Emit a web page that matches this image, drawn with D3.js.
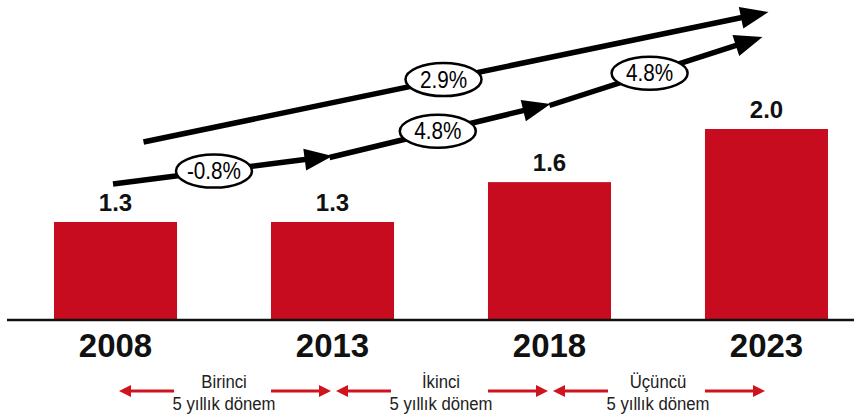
<!DOCTYPE html>
<html>
<head>
<meta charset="utf-8">
<script src="https://cdn.jsdelivr.net/npm/d3@7"></script>
<style>
  html, body { margin: 0; padding: 0; background: #fff; }
  svg { display: block; }
</style>
</head>
<body>
<svg id="chart" width="854" height="416"></svg>
<script>
// Years on the axis and the value shown above each bar
const years = ["2008", "2013", "2018", "2023"];
const values = [1.3, 1.3, 1.6, 2.0];

// Growth rates for each five-year step (lower arrow) and for the whole span (upper arrow)
const stepRates = ["-0.8%", "4.8%", "4.8%"];
const totalRate = "2.9%";

// Period labels placed between consecutive years
const periodNames = ["Birinci", "İkinci", "Üçüncü"];
const periodSub = "5 yıllık dönem";

const svg = d3.select("#chart");
const W = 854, H = 416;
const baseY = 320;

const x = d3.scaleBand()
  .domain(years)
  .range([54, 828])
  .paddingInner(0.433)
  .paddingOuter(0);

const y = d3.scaleLinear()
  .domain([0.562, 2.0])
  .range([baseY, 129]);

const cx = yr => x(yr) + x.bandwidth() / 2;

const barColor = "#c60c1e";
const arrowRed = "#d0141f";

// Bars
svg.append("g").selectAll("rect")
  .data(values)
  .join("rect")
  .attr("x", (d, i) => x(years[i]))
  .attr("y", d => y(d))
  .attr("width", x.bandwidth())
  .attr("height", d => baseY - y(d))
  .attr("fill", barColor);

// Value labels
svg.append("g").selectAll("text")
  .data(values)
  .join("text")
  .attr("x", (d, i) => cx(years[i]))
  .attr("y", d => y(d) - 11)
  .attr("text-anchor", "middle")
  .attr("font-family", "Liberation Sans, Arial, sans-serif")
  .attr("font-weight", "bold")
  .attr("font-size", 24)
  .attr("fill", "#111")
  .text(d => d.toFixed(1));

// Baseline axis with year labels
const axis = d3.axisBottom(x).tickSize(0).tickPadding(0);
const axG = svg.append("g").attr("transform", `translate(0,${baseY})`).call(axis);
axG.select(".domain").remove();
axG.selectAll("text")
  .attr("y", 37)
  .attr("dy", 0)
  .attr("font-family", "Liberation Sans, Arial, sans-serif")
  .attr("font-weight", "bold")
  .attr("font-size", 33)
  .attr("fill", "#111");
svg.append("line")
  .attr("x1", 7).attr("x2", W)
  .attr("y1", baseY).attr("y2", baseY)
  .attr("stroke", "#111").attr("stroke-width", 2.5);

// Black growth arrows with oval rate badges
const arrowG = svg.append("g");
function growthArrow(p0, p1, label, t) {
  const dx = p1[0] - p0[0], dy = p1[1] - p0[1];
  const len = Math.hypot(dx, dy);
  const ux = dx / len, uy = dy / len;
  const headLen = 28, headHalf = 11;
  const bx = p1[0] - ux * headLen, by = p1[1] - uy * headLen;
  arrowG.append("line")
    .attr("x1", p0[0]).attr("y1", p0[1])
    .attr("x2", bx + ux * 2).attr("y2", by + uy * 2)
    .attr("stroke", "#000").attr("stroke-width", 5.5);
  arrowG.append("path")
    .attr("d", d3.line()([
      [p1[0], p1[1]],
      [bx - uy * headHalf, by + ux * headHalf],
      [bx + uy * headHalf, by - ux * headHalf]
    ]) + "Z")
    .attr("fill", "#000");
  const mx = p0[0] + dx * t, my = p0[1] + dy * t;
  arrowG.append("ellipse")
    .attr("cx", mx).attr("cy", my)
    .attr("rx", 38).attr("ry", 16.5)
    .attr("fill", "#fff").attr("stroke", "#000").attr("stroke-width", 2.5);
  arrowG.append("text")
    .attr("transform", `translate(${mx},${my + 8}) scale(0.9,1)`)
    .attr("text-anchor", "middle")
    .attr("font-family", "Liberation Sans, Arial, sans-serif")
    .attr("font-size", 23)
    .attr("fill", "#000")
    .text(label);
}

// Lower chain: one arrow per five-year step
const lowerY = [184, 156, 104, 37];
const lowerStartShift = [-2.5, -3, 0];
const lowerEndShift = [0, 1, -4];
const lowerT = [0.46, 0.49, 0.47];
stepRates.forEach((r, i) => {
  const yStart = i === 0 ? lowerY[0] : lowerY[i] + 1.5;
  growthArrow(
    [cx(years[i]) + lowerStartShift[i], yStart],
    [cx(years[i + 1]) + lowerEndShift[i], lowerY[i + 1]],
    r, lowerT[i]);
});

// Upper arrow spanning the full period
growthArrow([cx(years[0]) + 28, 142], [cx(years[3]) + 2, 12], totalRate, 0.48);

// Period markers below the axis
const perG = svg.append("g");
function redArrow(xTail, xTip, yy) {
  const dir = Math.sign(xTip - xTail);
  const head = 12;
  perG.append("line")
    .attr("x1", xTail).attr("x2", xTip - dir * head + dir * 1)
    .attr("y1", yy).attr("y2", yy)
    .attr("stroke", arrowRed).attr("stroke-width", 3);
  perG.append("path")
    .attr("d", `M${xTip},${yy} L${xTip - dir * head},${yy - 6} L${xTip - dir * head},${yy + 6} Z`)
    .attr("fill", arrowRed);
}
periodNames.forEach((name, i) => {
  const c = (cx(years[i]) + cx(years[i + 1])) / 2;
  redArrow(c - 50, c - 105, 391);
  redArrow(c + 47, c + 107, 391);
  perG.append("text")
    .attr("transform", `translate(${c},388) scale(0.88,1)`)
    .attr("text-anchor", "middle")
    .attr("font-family", "Liberation Sans, Arial, sans-serif")
    .attr("font-size", 19)
    .attr("fill", "#222")
    .text(name);
  perG.append("text")
    .attr("transform", `translate(${c},410) scale(0.88,1)`)
    .attr("text-anchor", "middle")
    .attr("font-family", "Liberation Sans, Arial, sans-serif")
    .attr("font-size", 19)
    .attr("fill", "#222")
    .text(periodSub);
});
</script>
</body>
</html>
